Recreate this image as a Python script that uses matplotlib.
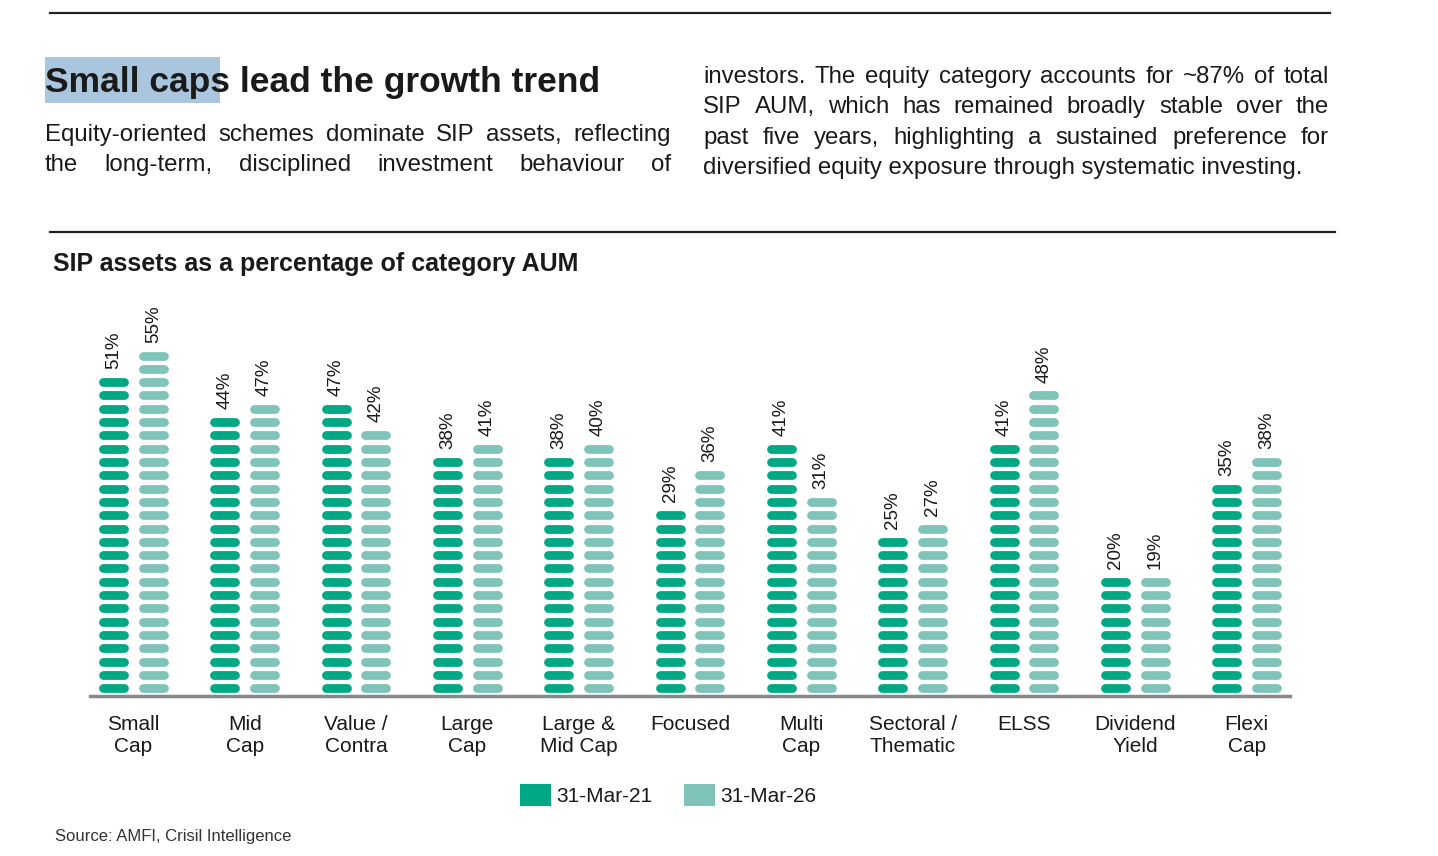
import matplotlib
matplotlib.use("Agg")
import matplotlib.pyplot as plt
import numpy as np

categories = ["Small\nCap", "Mid\nCap", "Value /\nContra", "Large\nCap", "Large &\nMid Cap",
              "Focused", "Multi\nCap", "Sectoral /\nThematic", "ELSS", "Dividend\nYield", "Flexi\nCap"]
mar21 = [51, 44, 47, 38, 38, 29, 41, 25, 41, 20, 35]
mar26 = [55, 47, 42, 41, 40, 36, 31, 27, 48, 19, 38]
series_labels = ["31-Mar-21", "31-Mar-26"]
colors = ["#00A884", "#80C4B9"]

plt.rcParams['font.family'] = ['Liberation Sans', 'DejaVu Sans']
W, H = 1438, 856
fig = plt.figure(figsize=(W/100, H/100), dpi=100)

def fx(px): return px / W
def fy(py): return 1 - py / H

fig.add_artist(plt.Line2D([fx(50), fx(1330)], [fy(13), fy(13)], color="#222", lw=1.6))
fig.add_artist(plt.Line2D([fx(50), fx(1335)], [fy(232), fy(232)], color="#222", lw=1.6))
fig.add_artist(plt.Rectangle((fx(45), fy(103)), fx(175), (103-57)/H, color="#A9C6DE", lw=0))
fig.text(fx(45), fy(92), "Small caps lead the growth trend", fontsize=25.5, fontweight="bold",
         va="baseline", ha="left", color="#1a1a1a")

fig.canvas.draw()
r = fig.canvas.get_renderer()
PSIZE = 17.3

def justified(line, x0, x1, y, justify=True, size=PSIZE):
    words = line.split()
    if not justify:
        fig.text(fx(x0), fy(y), line, fontsize=size, va="baseline", color="#1a1a1a")
        return
    ts = [fig.text(0, fy(y), w, fontsize=size, va="baseline", color="#1a1a1a") for w in words]
    widths = [t.get_window_extent(r).width for t in ts]
    gap = ((x1 - x0) - sum(widths)) / (len(words) - 1)
    x = x0
    for t, w in zip(ts, widths):
        t.set_x(fx(x))
        x += w + gap

justified("Equity-oriented schemes dominate SIP assets, reflecting", 45, 671, 141)
justified("the long-term, disciplined investment behaviour of", 45, 671, 171)
justified("investors. The equity category accounts for ~87% of total", 703, 1329, 83)
justified("SIP AUM, which has remained broadly stable over the", 703, 1329, 113)
justified("past five years, highlighting a sustained preference for", 703, 1329, 144)
justified("diversified equity exposure through systematic investing.", 703, 1329, 174, justify=False)

fig.text(fx(53), fy(264), "SIP assets as a percentage of category AUM", fontsize=18,
         fontweight="bold", va="center", color="#1a1a1a")
fig.text(fx(55), fy(836), "Source: AMFI, Crisil Intelligence", fontsize=12, va="center", color="#333")

ax = fig.add_axes([fx(90), fy(696), fx(1200), (696-300)/H])
n = len(categories)
x = np.arange(n)
ax.set_xlim(-0.39, n - 1 + 0.39)
scale = 6.25
ymax = (696-300)/scale
ax.set_ylim(0, ymax)
step = 13.3 / scale
half = 10.5 / 112
off = 20 / 112
lw_pt = 8.8 * 72 / 100
for vals, c, o in [(mar21, colors[0], -off), (mar26, colors[1], off)]:
    for xi, v in zip(x, vals):
        k = int(round(v / step))
        for j in range(k):
            yc = step * j + step / 2 + 0.2
            ax.plot([xi + o - half, xi + o + half], [yc, yc], color=c, lw=lw_pt,
                    solid_capstyle="round")
        ax.text(xi + o, k * step + 1.2, f"{v}%", rotation=90, ha="center", va="bottom",
                fontsize=13.5, color="#1a1a1a")
for s in ["top", "right", "left"]:
    ax.spines[s].set_visible(False)
ax.spines["bottom"].set_color("#888")
ax.spines["bottom"].set_linewidth(2.5)
ax.set_yticks([])
ax.set_xticks(x)
ax.set_xticklabels(categories, fontsize=15, color="#1a1a1a", linespacing=1.2)
ax.tick_params(axis="x", length=0, pad=14)

for i, (lab, c) in enumerate(zip(series_labels, colors)):
    x0 = [520, 684][i]
    fig.add_artist(plt.Rectangle((fx(x0), fy(806)), fx(31), 22/H, color=c, lw=0))
    fig.text(fx(x0 + 36), fy(796), lab, fontsize=15, va="center", color="#1a1a1a")

fig.savefig("out.png", dpi=100)
